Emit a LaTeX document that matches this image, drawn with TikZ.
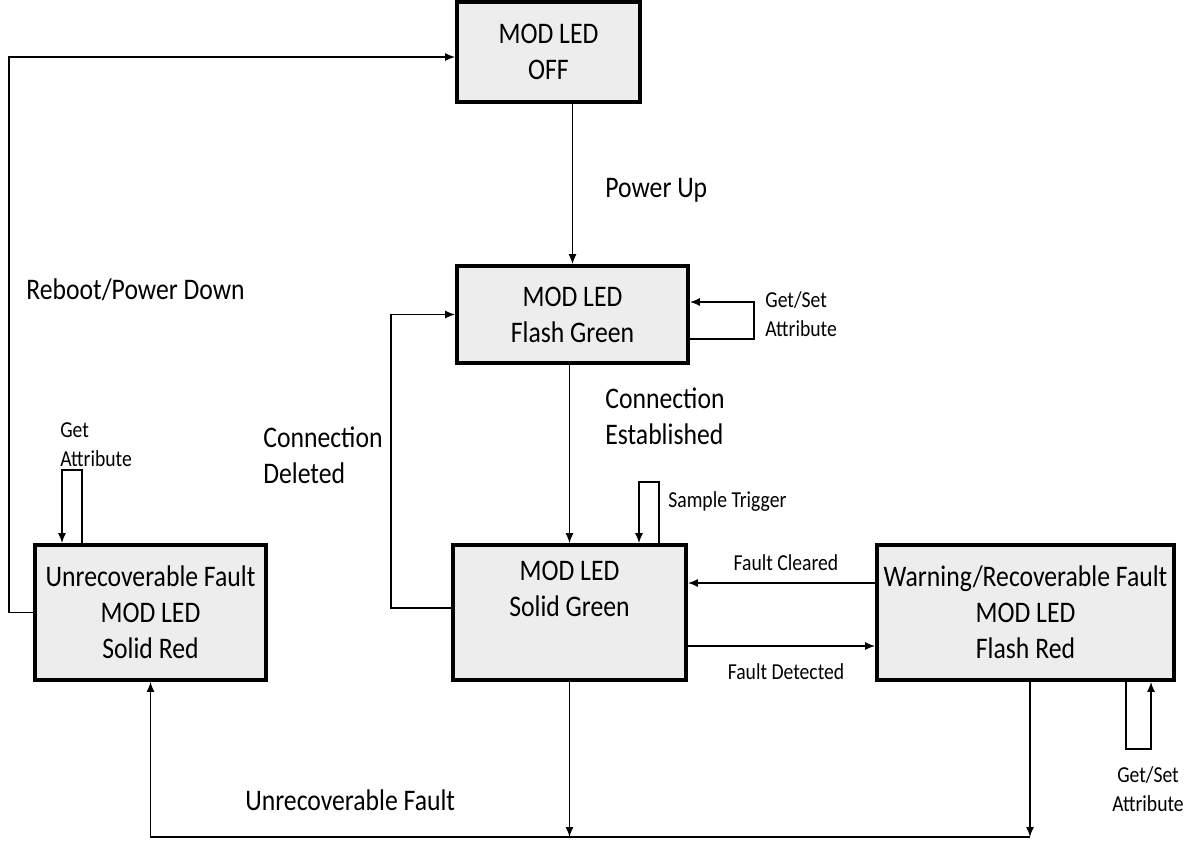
\documentclass[tikz,border=0pt]{standalone}
\usepackage{fontspec}
\setmainfont{Carlito}[FakeStretch=0.86]
\usetikzlibrary{arrows.meta}
\definecolor{boxgray}{RGB}{237,237,237}
\newcommand{\ledfont}{\fontsize{17}{20.5}\selectfont}
\newcommand{\notefont}{\fontsize{13}{16.5}\selectfont}

\begin{document}
\begin{tikzpicture}[x=0.02cm,y=-0.02cm,
	state/.style={draw,line width=2.2pt,fill=boxgray,align=center,font=\ledfont,inner sep=0pt},
	arr/.style={-{Latex[length=2mm,width=1.6mm]},line width=0.8pt},
	lbl/.style={font=\ledfont,align=left,inner sep=0pt},
	note/.style={font=\notefont,align=left,inner sep=0pt}]
			\useasboundingbox (0,0) rectangle (1193,846);
			% states
			\node[state,minimum width=3.66cm,minimum height=2cm] (off) at (548.5,52) {MOD LED\\OFF};
			\node[state,minimum width=4.62cm,minimum height=1.94cm] (fg) at (572.5,314.5) {MOD LED\\Flash Green};
			\node[state,minimum width=4.66cm,minimum height=2.7cm] (sg) at (569.5,612.5) {MOD LED\\Solid Green\\\strut};
			\node[state,minimum width=5.94cm,minimum height=2.7cm] (wr) at (1025.5,612.5) {Warning/Recoverable Fault\\MOD LED\\Flash Red};
			\node[state,minimum width=4.62cm,minimum height=2.7cm] (uf) at (150.5,612.5) {Unrecoverable Fault\\MOD LED\\Solid Red};
			\coordinate (bus) at (0,837);
			
			% transitions
			\draw[arr] (fg.north |- off.south) -- (fg.north);
			\draw[arr] (fg.south -| sg.north) -- (sg.north);
			\draw[arr] ([yshift=0.09cm]sg.west) -- ++(-60,0) |- (fg.west);
			\draw[arr] ([yshift=0.59cm]wr.west) -- ([yshift=0.59cm]sg.east);
			\draw[arr] ([yshift=-0.67cm]sg.east) -- ([yshift=-0.67cm]wr.west);
			\draw[arr] (uf.west) -- ++(-24,0) |- ([yshift=-0.1cm]off.west);
			\draw[arr] (sg.south) -- (sg.south |- bus);
			\draw[arr] ([xshift=0.09cm]wr.south) -- ([xshift=0.09cm]wr.south |- bus);
			\draw[arr] ([xshift=0.09cm]wr.south |- bus) -- (uf.south |- bus) -- (uf.south);
			
			% self loops
			\draw[arr] (fg.east) ++(0,24.5) -- ++(64,0) -- ++(0,-37) -- ++(-64,0);
			\draw[arr] (sg.north) ++(89.5,0) -- ++(0,-61) -- ++(-20,0) -- ++(0,61);
			\draw[arr] (wr.south) ++(100.5,0) -- ++(0,67) -- ++(25,0) -- ++(0,-67);
			\draw[arr] (uf.north) ++(-68.5,0) -- ++(0,-73) -- ++(-20,0) -- ++(0,73);
			
			% labels
			\node[lbl,anchor=west] (rebootLbl) at (26,290) {Reboot/Power Down};
			\node[lbl,anchor=west] (pwrLbl) at (605,190) {Power Up};
			\node[lbl,anchor=west] (estLbl) at (605,416) {Connection\\Established};
			\node[lbl,anchor=west] (delLbl) at (263,455) {Connection\\Deleted};
			\node[lbl,anchor=west] (ufLbl) at (245,800) {Unrecoverable Fault};
			\node[note,anchor=west] (gsLbl) at (765,314) {Get/Set\\Attribute};
			\node[note,anchor=west] (gaLbl) at (60,445) {Get\\Attribute};
			\node[note,anchor=west] (trigLbl) at (668,502) {Sample Trigger};
			\node[note] (clrLbl) at (786,563) {Fault Cleared};
			\node[note] (detLbl) at (786,672) {Fault Detected};
			\node[note,align=center] (gs2Lbl) at (1148,789) {Get/Set\\Attribute};
			
		\end{tikzpicture}
\end{document}
